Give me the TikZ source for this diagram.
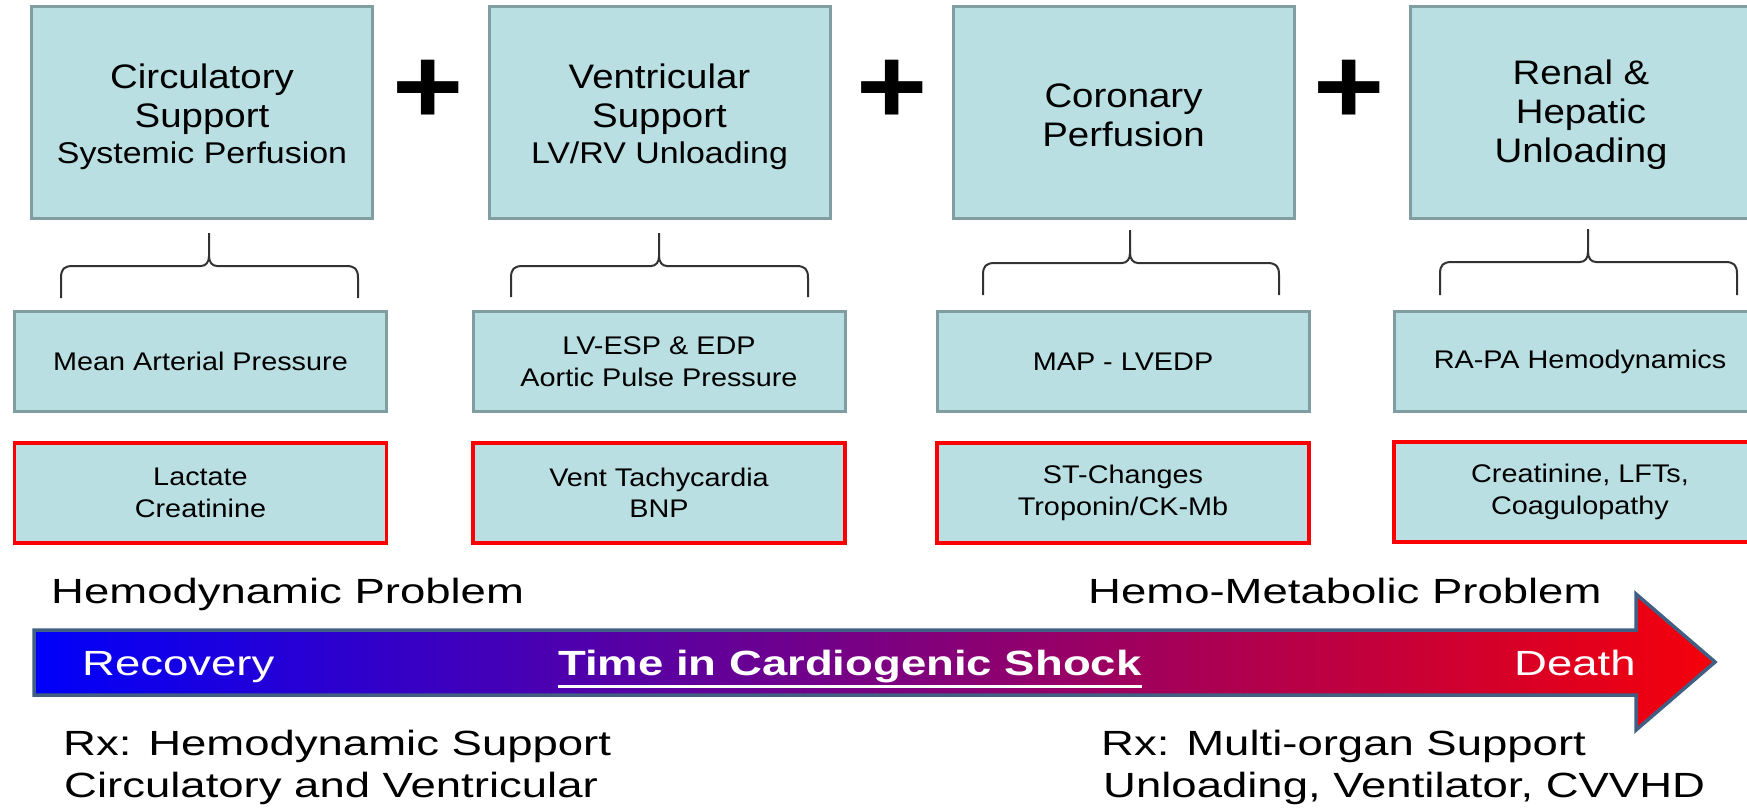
\documentclass[tikz,border=0pt]{standalone}
\usepackage{fontspec}
\setmainfont{Liberation Sans}
% widened faces for the boxes and for the time line
\newfontfamily\boxfont{Liberation Sans}[FakeStretch=1.13]
\newfontfamily\barfont{Liberation Sans}[FakeStretch=1.30]

\definecolor{boxfill}{RGB}{185,223,227}
\definecolor{boxedge}{RGB}{128,158,162}
\definecolor{alarm}{RGB}{250,0,0}
\definecolor{arrowedge}{RGB}{65,95,130}
\definecolor{bracecol}{RGB}{50,50,50}
\definecolor{shockblue}{RGB}{0,0,250}
\definecolor{shockmid}{RGB}{112,36,160}
\definecolor{shockred}{RGB}{245,0,10}

\tikzset{
  goalbox/.style={draw=boxedge, fill=boxfill, line width=3pt,
    minimum width=341pt, minimum height=212pt, align=center, inner sep=0pt,
    font=\boxfont\fontsize{34}{39}\selectfont},
  measbox/.style={draw=boxedge, fill=boxfill, line width=3pt,
    minimum width=372pt, minimum height=100pt, align=center, inner sep=0pt,
    font=\boxfont\fontsize{25.5}{31.5}\selectfont},
  labbox/.style={measbox, draw=alarm, line width=3.5pt},
  plussign/.style={font=\boxfont\bfseries\fontsize{108}{108}\selectfont, inner sep=0pt},
  bartext/.style={font=\barfont\fontsize{35}{42}\selectfont, inner sep=0pt, anchor=base west},
  intext/.style={bartext, text=white},
  bracepath/.style={draw=bracecol, line width=2pt},
}

% curly brace: left x, right x, tip x, tip y, bar y, foot y
\newcommand\curlybrace[6]{%
  \draw[bracepath] (#1,#6) -- (#1,#5+12) .. controls (#1,#5+3) and (#1+3,#5) .. (#1+12,#5)
    -- (#3-8,#5) .. controls (#3-3,#5) and (#3,#5-4) .. (#3,#5-10) -- (#3,#4);
  \draw[bracepath] (#2,#6) -- (#2,#5+12) .. controls (#2,#5+3) and (#2-3,#5) .. (#2-12,#5)
    -- (#3+8,#5) .. controls (#3+3,#5) and (#3,#5-4) .. (#3,#5-10);
}

\begin{document}
\begin{tikzpicture}[x=1pt,y=-1pt]
\useasboundingbox (0,0) rectangle (1747,808);
\fill[white] (0,0) rectangle (1747,808);
\begin{scope}
\clip (0,0) rectangle (1747,808);

% goals
\node[goalbox] (g1) at (202,112.3) {\rule{0pt}{33pt}Circulatory\\Support\\[-3pt]{\fontsize{30}{36}\selectfont Systemic Perfusion}};
\node[goalbox] (g2) at (659.5,112.3) {\rule{0pt}{33pt}Ventricular\\Support\\[-3pt]{\fontsize{30}{36}\selectfont LV/RV Unloading}};
\node[goalbox] (g3) at (1123.5,112.3) {\rule{0pt}{29pt}Coronary\\Perfusion};
\node[goalbox] (g4) at (1581,112.3) {\rule{0pt}{29pt}Renal \&\\Hepatic\\Unloading};

\node[plussign] (p1) at (428,92) {+};
\node[plussign] (p2) at (892,92) {+};
\node[plussign] (p3) at (1349,92) {+};

% braces
\curlybrace{61}{358}{209}{233}{266}{298}
\curlybrace{511}{808}{659}{233}{266}{297}
\curlybrace{983}{1279}{1130}{230}{263}{295}
\curlybrace{1440}{1737}{1588}{229}{262}{295}

% measurements
\node[measbox] (m1) at (200.5,361.5) {Mean Arterial Pressure};
\node[measbox] (m2) at (659,361.5) {LV-ESP \& EDP\\Aortic Pulse Pressure};
\node[measbox] (m3) at (1123,361.5) {MAP - LVEDP};
\node[measbox] (m4) at (1580,361.5) {RA-PA Hemodynamics};

% laboratory markers
\node[labbox] (l1) at (200.5,493) {Lactate\\Creatinine};
\node[labbox] (l2) at (659,493) {Vent Tachycardia\\BNP};
\node[labbox] (l3) at (1123,493) {ST-Changes\\Troponin/CK-Mb};
\node[labbox] (l4) at (1580,492) {Creatinine, LFTs,\\Coagulopathy};

% time line
\draw[draw=arrowedge, line width=3.5pt, left color=shockblue, middle color=shockmid, right color=shockred]
  (34,630) -- (1636,630) -- (1636,594) -- (1715,662) -- (1636,730) -- (1636,695) -- (34,695) -- cycle;

\node[bartext] (hp) at (51,603) {Hemodynamic Problem};
\node[bartext] (hmp) at (1088,603) {Hemo-Metabolic Problem};
\node[intext] (rec) at (82,675) {Recovery};
\node[intext, font=\barfont\bfseries\fontsize{35}{42}\selectfont] (ttl) at (558,675) {Time in Cardiogenic Shock};
\draw[white, line width=3pt] ([yshift=-11pt]ttl.base west) -- ([yshift=-11pt]ttl.base east);
\node[intext] (death) at (1514,675) {Death};

\node[bartext] (rx1) at (63,755) {Rx: Hemodynamic Support};
\node[bartext] (rx1b) at (64,797) {Circulatory and Ventricular};
\node[bartext] (rx2) at (1101,755) {Rx: Multi-organ Support};
\node[bartext] (rx2b) at (1103,797) {Unloading, Ventilator, CVVHD};
\end{scope}
\end{tikzpicture}
\end{document}
